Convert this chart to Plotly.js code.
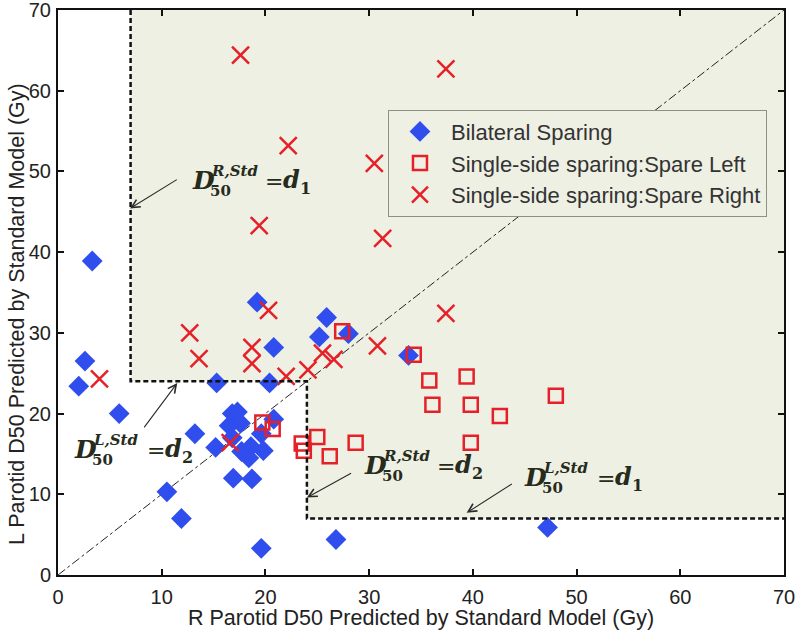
<!DOCTYPE html>
<html><head><meta charset="utf-8">
<script src="https://cdn.plot.ly/plotly-3.0.1.min.js"></script>
<style>html,body{margin:0;padding:0;background:#fff}#chart{width:796px;height:630px}</style>
</head><body><div id="chart"></div>
<script>
// Bilateral sparing (R D50, L D50)
const bilateralR = [2.6,2.0,3.3,5.9,10.5,11.9,13.2,15.3,15.2,16.8,17.3,16.5,17.6,16.8,17.7,18.6,18.4,19.8,19.6,20.8,16.9,18.7,19.6,20.4,20.8,19.2,25.2,25.9,28.0,33.8,26.8,47.2];
const bilateralL = [26.5,23.4,38.9,20.0,10.3,7.0,17.5,23.8,15.8,20.0,20.2,18.5,18.8,17.0,15.3,15.9,14.5,15.4,17.5,19.3,12.0,11.9,3.3,23.8,28.2,33.8,29.5,31.9,29.9,27.2,4.4,5.9];
// Single-side sparing: spare left
const spareLeftR = [19.7,20.7,23.5,23.7,25.0,26.2,28.7,27.4,34.3,35.8,39.4,36.1,39.8,42.6,48.0,39.8];
const spareLeftL = [18.9,18.1,16.3,15.4,17.1,14.7,16.4,30.2,27.3,24.1,24.6,21.1,21.1,19.7,22.2,16.4];
// Single-side sparing: spare right
const spareRightR = [17.6,37.4,22.2,30.5,19.4,31.3,37.4,20.3,12.7,13.6,18.7,18.7,30.8,25.5,26.6,24.1,22.0,16.6,4.0];
const spareRightL = [64.4,62.7,53.2,51.0,43.3,41.7,32.4,32.8,30.0,26.8,28.2,26.2,28.4,27.5,26.7,25.4,24.6,16.4,24.3];
// thresholds and axis
const d1 = 7, d2 = 24, axisMax = 70;
const tickVals = [0,10,20,30,40,50,60,70];
const seriesNames = ['Bilateral Sparing','Single-side sparing:Spare Left','Single-side sparing:Spare Right'];
const xTitle = 'R Parotid D50 Predicted by Standard Model (Gy)';
const yTitle = 'L Parotid D50 Predicted by Standard Model (Gy)';

const shade = 'rgb(238,240,227)';
const blue = 'rgb(48,78,238)';
const red = 'rgb(230,32,40)';
const sans = 'Liberation Sans, Arial';

const regionX = [d1, axisMax, axisMax, d2, d2, d1, d1];
const regionY = [axisMax, axisMax, d1, d1, d2, d2, axisMax];
const borderX = [d1, d1, d2, d2, axisMax];
const borderY = [axisMax, d2, d2, d1, d1];

const traces = [
  {x: regionX, y: regionY, mode:'lines', fill:'toself', fillcolor: shade, line:{width:0}, showlegend:false, hoverinfo:'skip'},
  {x: [0, axisMax], y: [0, axisMax], mode:'lines', line:{color:'#222', width:1, dash:'dashdot'}, showlegend:false, hoverinfo:'skip'},
  {x: bilateralR, y: bilateralL, mode:'markers', name: seriesNames[0], marker:{symbol:'diamond', size:16, color: blue}},
  {x: spareLeftR, y: spareLeftL, mode:'markers', name: seriesNames[1], marker:{symbol:'square-open', size:14, color: red, line:{width:2.5, color: red}}},
  {x: spareRightR, y: spareRightL, mode:'markers', name: seriesNames[2], marker:{symbol:'x-thin-open', size:17, color: red, line:{width:2.5, color: red}}},
  {x: borderX, y: borderY, mode:'lines', line:{color:'#111', width:2.5, dash:'5px,3px'}, showlegend:false, hoverinfo:'skip'}
];

const serif = 'DejaVu Serif';
const txtCol = '#262b1c';
function ann(x, y, text, xs, ys, size) {
  return {x:x, y:y, xref:'x', yref:'y', xanchor:'left', yanchor:'middle', xshift:xs, yshift:ys, showarrow:false, text:text, font:{family:serif, size:size, color:txtCol}};
}
function formula(x, y, sup, sub) {
  return [
    ann(x, y, '<b><i>D</i></b>', 0, 0, 25),
    ann(x, y, '<b><i>'+sup+'</i></b>', 19, 9, 15),
    ann(x, y, '<b>50</b>', 18, -11, 15),
    ann(x, y, '=', 73, -1, 22),
    ann(x, y, '<b><i>d</i></b>', 91, 1, 24),
    ann(x, y, '<b>'+sub+'</b>', 108, -8, 16)
  ];
}
function arrow(hx, hy, tx, ty) {
  return {x:hx, y:hy, ax:tx, ay:ty, xref:'x', yref:'y', axref:'x', ayref:'y', text:'', showarrow:true, arrowhead:5, arrowsize:1.5, arrowwidth:1.1, arrowcolor:'#2a2a2a', standoff:0};
}
const titles = [
  {x:0.5, y:-0.0765, xref:'paper', yref:'paper', xanchor:'center', yanchor:'middle', showarrow:false, text:xTitle, font:{family:sans, size:21.5, color:'#222'}},
  {x:-0.0565, y:0.462, xref:'paper', yref:'paper', xanchor:'center', yanchor:'middle', textangle:-90, showarrow:false, text:yTitle, font:{family:sans, size:21.5, color:'#222'}}
];
const annotations = [].concat(
  formula(12.7, 48.9, 'R,Std', '1'),
  formula(1.35, 15.6, 'L,Std', '2'),
  formula(29.3, 13.6, 'R,Std', '2'),
  formula(44.7, 12.1, 'L,Std', '1'),
  [arrow(6.94,45.4,11.6,49.1), arrow(11.5,23.8,8.2,18.1), arrow(24.0,9.6,28.4,12.7), arrow(39.4,7.7,43.9,11.4)],
  titles
);

const axisCommon = {range:[0,axisMax], tickvals: tickVals, ticks:'inside', ticklen:6, tickwidth:2, tickcolor:'#111', showline:true, linecolor:'#111', linewidth:2, mirror:'ticks', showgrid:false, zeroline:false, ticklabeloverflow:'allow', tickfont:{family:sans, size:20, color:'#222'}};

const layout = {
  width:796, height:630,
  margin:{l:58, r:12, t:10, b:55},
  paper_bgcolor:'#fff', plot_bgcolor:'#fff',
  xaxis: Object.assign({}, axisCommon, {ticklabelstandoff:3}),
  yaxis: Object.assign({}, axisCommon, {ticklabelstandoff:1}),
  legend:{x:0.4545, y:0.8236, xanchor:'left', yanchor:'top', bgcolor: shade, bordercolor:'#8c9184', borderwidth:1, itemwidth:52, font:{family:sans, size:22, color:'#333'}, tracegroupgap:0},
  annotations: annotations,
  showlegend:true
};
Plotly.newPlot('chart', traces, layout, {staticPlot:true});
</script></body></html>
